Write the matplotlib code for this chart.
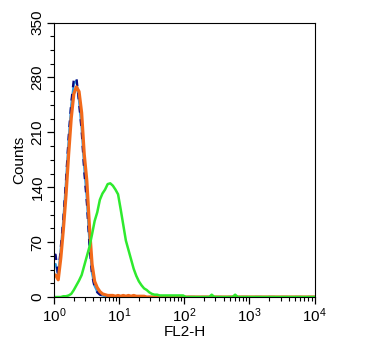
import numpy as np
import matplotlib
matplotlib.use("Agg")
import matplotlib.pyplot as plt
from matplotlib.ticker import MultipleLocator, LogLocator

plt.rcParams['font.family'] = 'Liberation Sans'
plt.rcParams['mathtext.fontset'] = 'custom'
plt.rcParams['mathtext.rm'] = 'Liberation Sans'
plt.rcParams['font.size'] = 11

# histogram channels: 25 per decade, 10^0 .. 10^4
n_bins = 100

# counts per channel, remaining channels are 0
orange = [28, 22, 50, 87, 130, 182, 228, 259, 268, 262, 235, 182, 148, 90, 42,
          20, 12, 7, 4, 3, 2, 2, 2, 1, 2, 1, 2, 1, 2, 1, 2, 1, 1, 1, 1]
light_blue = [42, 28, 62, 100, 148, 200, 245, 272, 276, 250, 215, 165, 125, 70,
              30, 14, 7, 4, 2, 1, 1, 1, 1, 1, 1]
navy = [54, 26, 64, 102, 150, 204, 248, 278, 280, 248, 212, 160, 120, 66,
        28, 12, 6, 3, 2, 1, 1, 1]
green = [0, 0, 0, 1, 1, 2, 4, 9, 15, 21, 28, 40, 52, 64, 80, 97, 108, 124, 132,
         137, 144, 145, 142, 137, 131, 112, 92, 72, 60, 48, 36, 27, 20, 15, 11,
         9, 6, 4, 3, 3, 2, 2, 2, 2, 2, 2, 2, 2, 2, 2]
green_spikes = {60: 3, 69: 3}


def pad(vals):
    out = np.zeros(n_bins)
    out[:len(vals)] = vals
    return out


edges = np.logspace(0, 4, n_bins + 1)
centers = np.sqrt(edges[:-1] * edges[1:])
x = np.concatenate([[edges[0]], centers, [edges[-1]]])


def trace(vals):
    y = pad(vals)
    return np.concatenate([[y[0]], y, [y[-1]]])


g = pad(green)
for k, v in green_spikes.items():
    g[k] = v

fig = plt.figure(figsize=(3.67, 3.47), dpi=100)
ax = fig.add_axes([0.148, 0.144, 0.709, 0.791])

ax.plot(x, trace(light_blue), color='#2C9BE6', lw=1.6)
ax.plot(x, trace(navy), color='#0A0A80', lw=1.6, ls=(0, (3, 3)))
ax.plot(x, trace(orange), color='#F26A1B', lw=2.3)
ax.plot(x, np.concatenate([[0], g, [0]]), color='#2EEA2E', lw=1.8)

ax.set_xscale('log')
ax.set_xlim(1, 1e4)
ax.set_ylim(0, 350)
ax.yaxis.set_major_locator(MultipleLocator(70))
ax.yaxis.set_minor_locator(MultipleLocator(17.5))
ax.xaxis.set_major_locator(LogLocator(base=10, numticks=10))
ax.xaxis.set_minor_locator(LogLocator(base=10, subs=np.arange(2, 10), numticks=20))

ax.tick_params(which='major', length=5, width=0.9, pad=2)
ax.tick_params(which='minor', length=3, width=0.8)
for lab in ax.get_yticklabels():
    lab.set_rotation(90)
    lab.set_va('center')

ax.set_xlabel('FL2-H', labelpad=0)
ax.set_ylabel('Counts', labelpad=3)

fig.savefig('out.png', dpi=100)
